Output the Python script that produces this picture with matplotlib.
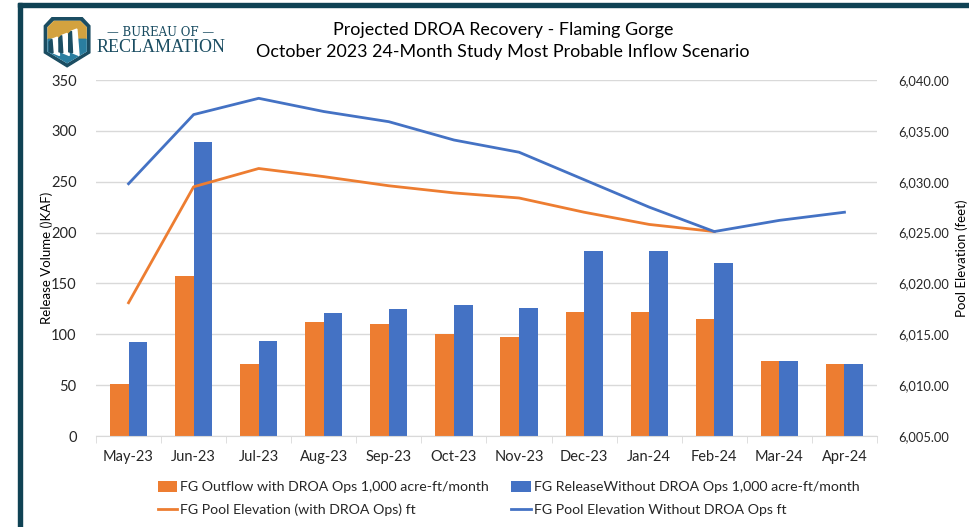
import matplotlib
matplotlib.use("Agg")
import matplotlib.pyplot as plt
import numpy as np
from matplotlib.patches import Polygon, Rectangle
from matplotlib.ticker import FuncFormatter, MultipleLocator

plt.rcParams['font.family'] = ['Lato', 'DejaVu Sans']

months = ["May-23", "Jun-23", "Jul-23", "Aug-23", "Sep-23", "Oct-23", "Nov-23",
          "Dec-23", "Jan-24", "Feb-24", "Mar-24", "Apr-24"]
outflow_droa = [51, 157, 71, 112, 110, 100, 97, 122, 122, 115, 74, 71]
release_no_droa = [92, 289, 93, 121, 125, 129, 126, 182, 182, 170, 74, 71]
elev_droa = [6018.1, 6029.5, 6031.3, 6030.5, 6029.6, 6028.9, 6028.4, 6027.0, 6025.8, 6025.1]
elev_no_droa = [6029.8, 6036.6, 6038.2, 6036.9, 6035.9, 6034.1, 6032.9, 6030.2, 6027.5, 6025.1, 6026.2, 6027.0]

ORANGE = "#ED7D31"
BLUE = "#4472C4"
TEAL = "#0f4254"

fig = plt.figure(figsize=(9.7, 5.27), dpi=100)
W, H = 970, 527

# frame
fig.patches.append(Rectangle((18 / W, 0), 4 / W, (H - 3) / H, transform=fig.transFigure,
                             color=TEAL, zorder=0))
fig.patches.append(Rectangle((18 / W, (H - 7) / H), (W - 18) / W, 4 / H, transform=fig.transFigure,
                             color=TEAL, zorder=0))

ax = fig.add_axes([96 / W, (H - 436) / H, (877 - 96) / W, (436 - 80) / H])
x = np.arange(len(months))
bw = 0.285
ax.bar(x - bw / 2, outflow_droa, bw, color=ORANGE, zorder=2,
       label="FG Outflow with DROA Ops 1,000 acre-ft/month")
ax.bar(x + bw / 2, release_no_droa, bw, color=BLUE, zorder=2,
       label="FG ReleaseWithout DROA Ops 1,000 acre-ft/month")
ax.set_ylim(0, 350)
ax.set_xlim(-0.5, len(months) - 0.5)
ax.yaxis.set_major_locator(MultipleLocator(50))
ax.grid(axis='y', color='#d9d9d9', linewidth=1, zorder=0)
ax.set_axisbelow(True)
for s in ['top', 'left', 'right']:
    ax.spines[s].set_visible(False)
ax.spines['bottom'].set_color('#d9d9d9')
ax.set_xticks(x)
ax.set_xticklabels(months, fontsize=10.5, color='#262626')
ax.set_xticks(np.arange(-0.5, len(months)), minor=True)
ax.tick_params(axis='x', which='major', length=0, pad=10)
ax.tick_params(axis='x', which='minor', length=5, color='#d9d9d9')
ax.tick_params(axis='y', length=0, labelsize=10.5, labelcolor='#262626', pad=14)
ax.set_ylabel("Release Volume ()KAF)", fontsize=9.5, color='black')
ax.yaxis.set_label_coords((53 - 96) / (877 - 96), 0.5)

ax2 = ax.twinx()
ax2.set_ylim(6005, 6040)
ax2.yaxis.set_major_locator(MultipleLocator(5))
ax2.yaxis.set_major_formatter(FuncFormatter(lambda v, p: f"{v:,.2f}"))
l1, = ax2.plot(x[:len(elev_droa)], elev_droa, color=ORANGE, lw=2, zorder=3,
               label="FG Pool Elevation (with DROA Ops) ft")
l2, = ax2.plot(x, elev_no_droa, color=BLUE, lw=2, zorder=3,
               label="FG Pool Elevation Without DROA Ops ft")
for s in ['top', 'left', 'right', 'bottom']:
    ax2.spines[s].set_visible(False)
ax2.tick_params(axis='y', length=0, labelsize=9.3, labelcolor='#262626', pad=15)
ax2.set_ylabel("Pool Elevation (feet)", fontsize=9.5, color='black')
ax2.yaxis.set_label_coords((955 - 96) / (877 - 96), 0.5)

h1, lab1 = ax.get_legend_handles_labels()
handles = [h1[0], l1, h1[1], l2]
labels = [lab1[0], l1.get_label(), lab1[1], l2.get_label()]
fig.legend(handles, labels, ncol=2, loc='upper left', bbox_to_anchor=(152 / W, (H - 475) / H),
           borderaxespad=0, frameon=False, fontsize=10.2, handlelength=1.4, handleheight=0.8,
           handletextpad=0.2, columnspacing=1.55, labelspacing=0.75, labelcolor='#262626')

fig.text(503 / W, (H - 30) / H, "Projected DROA Recovery - Flaming Gorge", ha='center', va='center',
         fontsize=12.9, color='black')
fig.text(503 / W, (H - 52) / H, "October 2023 24-Month Study Most Probable Inflow Scenario",
         ha='center', va='center', fontsize=12.9, color='black')

# logo
lax = fig.add_axes([40 / W, (H - 69) / H, 58 / W, 54 / H])
lax.set_xlim(0, 1.07)
lax.set_ylim(0, 1)
lax.axis('off')
outer = [(0.08, 0.80), (0.22, 0.95), (0.78, 0.95), (0.92, 0.80), (0.92, 0.30), (0.5, 0.04), (0.08, 0.30)]
lax.add_patch(Polygon(outer, closed=True, color='#1b4d62'))
inner = [(0.15, 0.77), (0.26, 0.88), (0.74, 0.88), (0.85, 0.77), (0.85, 0.33), (0.5, 0.12), (0.15, 0.33)]
lax.add_patch(Polygon(inner, closed=True, color='white'))
lax.add_patch(Polygon([(0.15, 0.77), (0.26, 0.88), (0.74, 0.88), (0.85, 0.77), (0.85, 0.55), (0.15, 0.55)],
                      closed=True, color='#d3a23f'))
lax.add_patch(Polygon([(0.15, 0.55), (0.85, 0.55), (0.85, 0.33), (0.5, 0.12), (0.15, 0.33)],
                      closed=True, color='#2a7ea0'))
for bx, top in [(0.22, 0.55), (0.40, 0.62), (0.58, 0.70)]:
    lax.add_patch(Polygon([(bx, top), (bx + 0.1, top + 0.04), (bx + 0.14, 0.25), (bx + 0.02, 0.30)],
                          closed=True, color='white'))
    lax.add_patch(Polygon([(bx - 0.05, top - 0.05), (bx, top), (bx + 0.02, 0.30), (bx - 0.05, 0.32)],
                          closed=True, color='#1b4d62'))

fig.text(161 / W, (H - 33) / H, "— BUREAU OF —", ha='center', va='center', fontsize=8.5,
         family='DejaVu Serif', color='#1b4d62')
fig.text(161 / W, (H - 48) / H, "RECLAMATION", ha='center', va='center', fontsize=13,
         family='Liberation Serif', color='#1b4d62')

fig.savefig("out.png", dpi=100)
